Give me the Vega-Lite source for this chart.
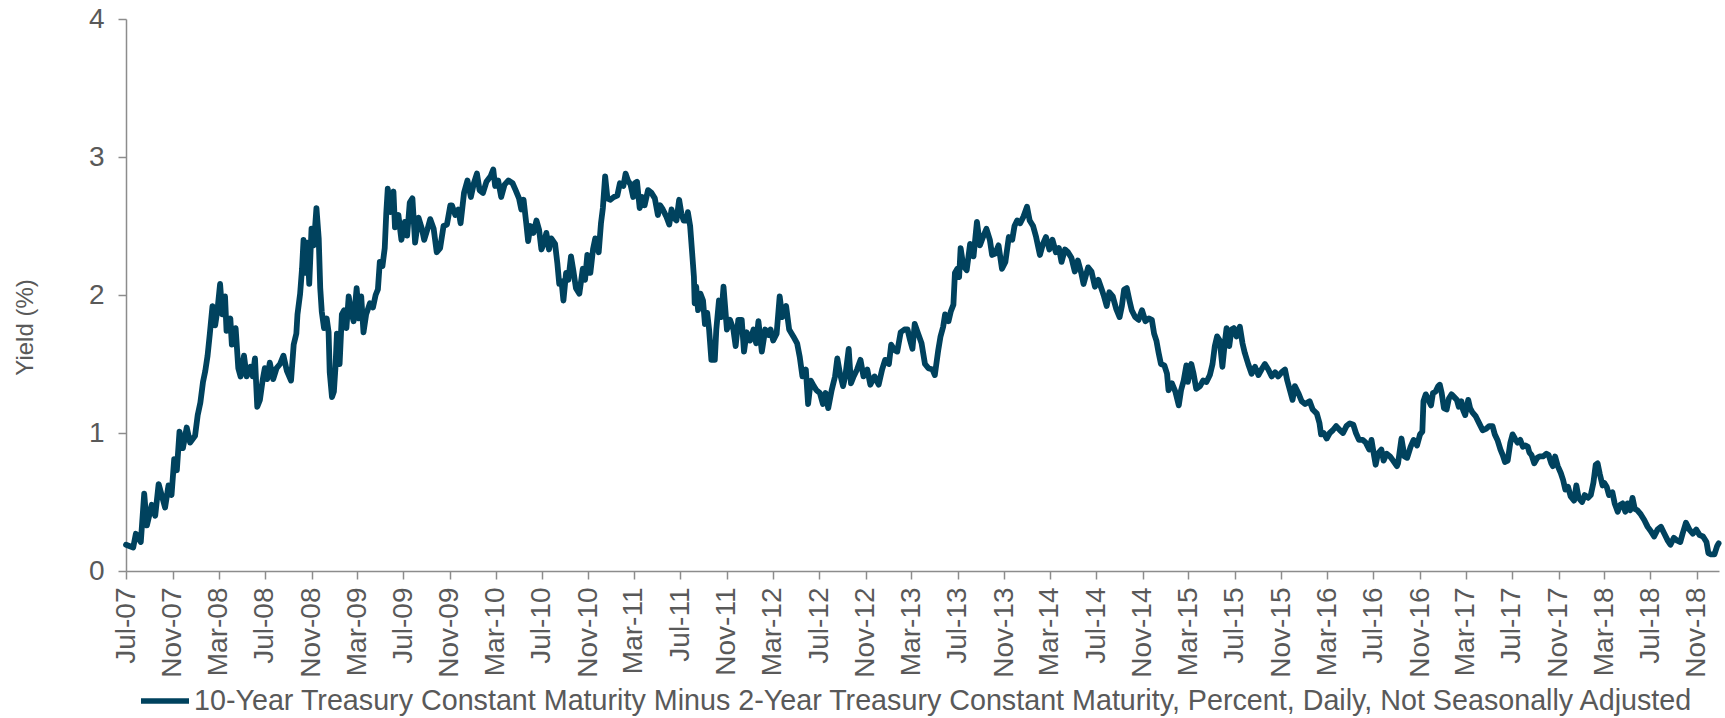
{
"$schema": "https://vega.github.io/schema/vega-lite/v6.json",
"width": 1593, "height": 552,
"autosize": {"type": "none"},
"padding": {"left": 126, "top": 19, "right": 6, "bottom": 147},
"background": "white",
"config": {"view": {"stroke": null}, "font": "Liberation Sans"},
"data": {"values": [
{"d":"2007-07-01","v":0.19},{"d":"2007-07-20","v":0.17},{"d":"2007-07-27","v":0.27},{"d":"2007-08-09","v":0.21},{"d":"2007-08-18","v":0.56},{"d":"2007-08-25","v":0.33},{"d":"2007-09-07","v":0.48},{"d":"2007-09-16","v":0.40},{"d":"2007-09-25","v":0.63},{"d":"2007-10-12","v":0.46},{"d":"2007-10-21","v":0.62},{"d":"2007-10-29","v":0.55},{"d":"2007-11-05","v":0.81},{"d":"2007-11-12","v":0.73},{"d":"2007-11-19","v":1.01},{"d":"2007-11-28","v":0.89},{"d":"2007-12-08","v":1.04},{"d":"2007-12-17","v":0.93},{"d":"2007-12-30","v":0.98},
{"d":"2008-01-06","v":1.13},{"d":"2008-01-13","v":1.22},{"d":"2008-01-20","v":1.37},{"d":"2008-01-26","v":1.45},{"d":"2008-02-01","v":1.56},{"d":"2008-02-07","v":1.72},{"d":"2008-02-14","v":1.92},{"d":"2008-02-21","v":1.78},{"d":"2008-02-27","v":1.89},{"d":"2008-03-05","v":2.08},{"d":"2008-03-11","v":1.86},{"d":"2008-03-18","v":1.99},{"d":"2008-03-22","v":1.74},{"d":"2008-04-01","v":1.83},{"d":"2008-04-05","v":1.64},{"d":"2008-04-15","v":1.76},{"d":"2008-04-22","v":1.47},{"d":"2008-04-28","v":1.41},{"d":"2008-05-07","v":1.56},{"d":"2008-05-14","v":1.41},{"d":"2008-05-24","v":1.48},{"d":"2008-05-30","v":1.41},{"d":"2008-06-05","v":1.54},{"d":"2008-06-11","v":1.19},{"d":"2008-06-18","v":1.24},{"d":"2008-06-25","v":1.38},{"d":"2008-07-01","v":1.47},{"d":"2008-07-07","v":1.39},{"d":"2008-07-14","v":1.51},{"d":"2008-07-23","v":1.39},{"d":"2008-08-01","v":1.47},{"d":"2008-08-10","v":1.50},{"d":"2008-08-19","v":1.56},{"d":"2008-08-28","v":1.45},{"d":"2008-09-08","v":1.38},{"d":"2008-09-15","v":1.64},{"d":"2008-09-22","v":1.72},{"d":"2008-09-25","v":1.86},{"d":"2008-10-02","v":2.01},{"d":"2008-10-07","v":2.19},{"d":"2008-10-11","v":2.40},{"d":"2008-10-16","v":2.16},{"d":"2008-10-21","v":2.38},{"d":"2008-10-26","v":2.08},{"d":"2008-11-01","v":2.48},{"d":"2008-11-07","v":2.36},{"d":"2008-11-14","v":2.63},{"d":"2008-11-20","v":2.41},{"d":"2008-11-24","v":2.05},{"d":"2008-11-28","v":1.88},{"d":"2008-12-04","v":1.76},{"d":"2008-12-11","v":1.83},{"d":"2008-12-16","v":1.73},{"d":"2008-12-19","v":1.44},{"d":"2008-12-25","v":1.26},{"d":"2008-12-30","v":1.30},
{"d":"2009-01-03","v":1.47},{"d":"2009-01-07","v":1.72},{"d":"2009-01-14","v":1.50},{"d":"2009-01-20","v":1.86},{"d":"2009-01-26","v":1.89},{"d":"2009-02-01","v":1.76},{"d":"2009-02-07","v":1.99},{"d":"2009-02-13","v":1.88},{"d":"2009-02-20","v":1.81},{"d":"2009-02-28","v":2.05},{"d":"2009-03-06","v":1.83},{"d":"2009-03-12","v":1.99},{"d":"2009-03-18","v":1.73},{"d":"2009-03-25","v":1.86},{"d":"2009-04-04","v":1.94},{"d":"2009-04-12","v":1.91},{"d":"2009-04-19","v":2.00},{"d":"2009-04-25","v":2.04},{"d":"2009-04-30","v":2.24},{"d":"2009-05-07","v":2.21},{"d":"2009-05-13","v":2.34},{"d":"2009-05-17","v":2.59},{"d":"2009-05-21","v":2.77},{"d":"2009-05-28","v":2.60},{"d":"2009-06-05","v":2.75},{"d":"2009-06-09","v":2.49},{"d":"2009-06-18","v":2.58},{"d":"2009-06-26","v":2.40},{"d":"2009-07-05","v":2.53},{"d":"2009-07-11","v":2.43},{"d":"2009-07-18","v":2.67},{"d":"2009-07-25","v":2.70},{"d":"2009-08-01","v":2.38},{"d":"2009-08-10","v":2.56},{"d":"2009-08-19","v":2.48},{"d":"2009-08-25","v":2.40},{"d":"2009-09-03","v":2.48},{"d":"2009-09-10","v":2.55},{"d":"2009-09-19","v":2.48},{"d":"2009-09-27","v":2.31},{"d":"2009-10-06","v":2.34},{"d":"2009-10-15","v":2.50},{"d":"2009-10-24","v":2.51},{"d":"2009-11-02","v":2.65},{"d":"2009-11-06","v":2.65},{"d":"2009-11-15","v":2.58},{"d":"2009-11-23","v":2.62},{"d":"2009-11-29","v":2.52},{"d":"2009-12-08","v":2.74},{"d":"2009-12-17","v":2.83},{"d":"2009-12-26","v":2.71},
{"d":"2010-01-03","v":2.81},{"d":"2010-01-11","v":2.88},{"d":"2010-01-18","v":2.76},{"d":"2010-01-27","v":2.74},{"d":"2010-02-05","v":2.82},{"d":"2010-02-16","v":2.86},{"d":"2010-02-23","v":2.91},{"d":"2010-02-28","v":2.79},{"d":"2010-03-08","v":2.83},{"d":"2010-03-16","v":2.71},{"d":"2010-03-25","v":2.80},{"d":"2010-04-04","v":2.83},{"d":"2010-04-15","v":2.81},{"d":"2010-04-23","v":2.76},{"d":"2010-05-02","v":2.70},{"d":"2010-05-08","v":2.62},{"d":"2010-05-14","v":2.69},{"d":"2010-05-21","v":2.52},{"d":"2010-05-26","v":2.39},{"d":"2010-06-01","v":2.50},{"d":"2010-06-09","v":2.45},{"d":"2010-06-17","v":2.54},{"d":"2010-06-24","v":2.47},{"d":"2010-06-30","v":2.33},{"d":"2010-07-06","v":2.37},{"d":"2010-07-13","v":2.45},{"d":"2010-07-20","v":2.33},{"d":"2010-07-26","v":2.41},{"d":"2010-08-05","v":2.37},{"d":"2010-08-11","v":2.23},{"d":"2010-08-16","v":2.08},{"d":"2010-08-22","v":2.10},{"d":"2010-08-27","v":1.96},{"d":"2010-09-03","v":2.16},{"d":"2010-09-09","v":2.11},{"d":"2010-09-16","v":2.28},{"d":"2010-09-22","v":2.18},{"d":"2010-09-29","v":2.05},{"d":"2010-10-08","v":2.01},{"d":"2010-10-17","v":2.19},{"d":"2010-10-23","v":2.11},{"d":"2010-10-29","v":2.29},{"d":"2010-11-06","v":2.16},{"d":"2010-11-13","v":2.33},{"d":"2010-11-19","v":2.41},{"d":"2010-11-28","v":2.31},{"d":"2010-12-04","v":2.52},{"d":"2010-12-09","v":2.63},{"d":"2010-12-15","v":2.86},{"d":"2010-12-21","v":2.70},{"d":"2010-12-28","v":2.69},
{"d":"2011-01-07","v":2.71},{"d":"2011-01-16","v":2.72},{"d":"2011-01-23","v":2.81},{"d":"2011-02-01","v":2.79},{"d":"2011-02-07","v":2.88},{"d":"2011-02-13","v":2.83},{"d":"2011-02-20","v":2.80},{"d":"2011-02-27","v":2.71},{"d":"2011-03-03","v":2.81},{"d":"2011-03-09","v":2.82},{"d":"2011-03-16","v":2.63},{"d":"2011-03-23","v":2.71},{"d":"2011-03-29","v":2.65},{"d":"2011-04-07","v":2.76},{"d":"2011-04-16","v":2.74},{"d":"2011-04-25","v":2.70},{"d":"2011-05-03","v":2.58},{"d":"2011-05-09","v":2.65},{"d":"2011-05-16","v":2.62},{"d":"2011-05-25","v":2.57},{"d":"2011-06-02","v":2.51},{"d":"2011-06-08","v":2.62},{"d":"2011-06-14","v":2.56},{"d":"2011-06-21","v":2.54},{"d":"2011-06-28","v":2.69},{"d":"2011-07-04","v":2.59},{"d":"2011-07-10","v":2.54},{"d":"2011-07-17","v":2.54},{"d":"2011-07-21","v":2.60},{"d":"2011-07-27","v":2.50},{"d":"2011-08-02","v":2.28},{"d":"2011-08-06","v":2.13},{"d":"2011-08-08","v":1.94},{"d":"2011-08-12","v":2.06},{"d":"2011-08-17","v":1.89},{"d":"2011-08-23","v":2.01},{"d":"2011-08-30","v":1.96},{"d":"2011-09-04","v":1.79},{"d":"2011-09-10","v":1.87},{"d":"2011-09-15","v":1.75},{"d":"2011-09-21","v":1.53},{"d":"2011-09-30","v":1.53},{"d":"2011-10-04","v":1.75},{"d":"2011-10-11","v":1.96},{"d":"2011-10-17","v":1.84},{"d":"2011-10-23","v":2.06},{"d":"2011-11-01","v":1.75},{"d":"2011-11-09","v":1.82},{"d":"2011-11-18","v":1.75},{"d":"2011-11-24","v":1.63},{"d":"2011-12-01","v":1.82},{"d":"2011-12-10","v":1.82},{"d":"2011-12-16","v":1.59},{"d":"2011-12-23","v":1.73},
{"d":"2012-01-01","v":1.67},{"d":"2012-01-10","v":1.75},{"d":"2012-01-17","v":1.65},{"d":"2012-01-23","v":1.81},{"d":"2012-02-01","v":1.59},{"d":"2012-02-10","v":1.75},{"d":"2012-02-19","v":1.71},{"d":"2012-02-24","v":1.75},{"d":"2012-03-02","v":1.67},{"d":"2012-03-11","v":1.72},{"d":"2012-03-19","v":1.99},{"d":"2012-03-26","v":1.84},{"d":"2012-04-05","v":1.92},{"d":"2012-04-13","v":1.75},{"d":"2012-04-24","v":1.70},{"d":"2012-05-04","v":1.65},{"d":"2012-05-11","v":1.55},{"d":"2012-05-18","v":1.41},{"d":"2012-05-27","v":1.46},{"d":"2012-06-02","v":1.21},{"d":"2012-06-09","v":1.38},{"d":"2012-06-17","v":1.34},{"d":"2012-06-24","v":1.31},{"d":"2012-07-03","v":1.29},{"d":"2012-07-11","v":1.21},{"d":"2012-07-18","v":1.29},{"d":"2012-07-25","v":1.18},{"d":"2012-08-03","v":1.31},{"d":"2012-08-12","v":1.41},{"d":"2012-08-18","v":1.54},{"d":"2012-08-25","v":1.43},{"d":"2012-09-02","v":1.34},{"d":"2012-09-08","v":1.41},{"d":"2012-09-17","v":1.61},{"d":"2012-09-23","v":1.36},{"d":"2012-09-30","v":1.41},{"d":"2012-10-09","v":1.46},{"d":"2012-10-18","v":1.53},{"d":"2012-10-26","v":1.41},{"d":"2012-11-05","v":1.46},{"d":"2012-11-13","v":1.35},{"d":"2012-11-24","v":1.41},{"d":"2012-12-05","v":1.35},{"d":"2012-12-14","v":1.46},{"d":"2012-12-22","v":1.53},
{"d":"2013-01-01","v":1.50},{"d":"2013-01-07","v":1.64},{"d":"2013-01-16","v":1.60},{"d":"2013-01-23","v":1.59},{"d":"2013-02-01","v":1.73},{"d":"2013-02-11","v":1.75},{"d":"2013-02-19","v":1.75},{"d":"2013-02-26","v":1.67},{"d":"2013-03-04","v":1.61},{"d":"2013-03-10","v":1.79},{"d":"2013-03-19","v":1.72},{"d":"2013-03-28","v":1.65},{"d":"2013-04-06","v":1.50},{"d":"2013-04-15","v":1.47},{"d":"2013-04-26","v":1.46},{"d":"2013-05-02","v":1.42},{"d":"2013-05-11","v":1.60},{"d":"2013-05-17","v":1.70},{"d":"2013-05-24","v":1.77},{"d":"2013-05-29","v":1.86},{"d":"2013-06-07","v":1.81},{"d":"2013-06-13","v":1.88},{"d":"2013-06-20","v":1.93},{"d":"2013-06-24","v":2.16},{"d":"2013-06-30","v":2.19},{"d":"2013-07-05","v":2.13},{"d":"2013-07-09","v":2.34},{"d":"2013-07-16","v":2.21},{"d":"2013-07-25","v":2.18},{"d":"2013-08-03","v":2.37},{"d":"2013-08-12","v":2.28},{"d":"2013-08-21","v":2.53},{"d":"2013-08-29","v":2.36},{"d":"2013-09-06","v":2.42},{"d":"2013-09-15","v":2.48},{"d":"2013-09-24","v":2.40},{"d":"2013-09-30","v":2.29},{"d":"2013-10-08","v":2.30},{"d":"2013-10-17","v":2.36},{"d":"2013-10-26","v":2.19},{"d":"2013-11-04","v":2.24},{"d":"2013-11-13","v":2.42},{"d":"2013-11-22","v":2.40},{"d":"2013-11-28","v":2.50},{"d":"2013-12-05","v":2.54},{"d":"2013-12-13","v":2.52},{"d":"2013-12-22","v":2.57},{"d":"2013-12-31","v":2.64},
{"d":"2014-01-07","v":2.54},{"d":"2014-01-16","v":2.50},{"d":"2014-01-24","v":2.42},{"d":"2014-02-03","v":2.29},{"d":"2014-02-11","v":2.37},{"d":"2014-02-19","v":2.42},{"d":"2014-02-28","v":2.33},{"d":"2014-03-08","v":2.40},{"d":"2014-03-17","v":2.31},{"d":"2014-03-25","v":2.34},{"d":"2014-04-01","v":2.24},{"d":"2014-04-10","v":2.33},{"d":"2014-04-18","v":2.31},{"d":"2014-04-27","v":2.27},{"d":"2014-05-06","v":2.17},{"d":"2014-05-14","v":2.25},{"d":"2014-05-23","v":2.16},{"d":"2014-05-29","v":2.08},{"d":"2014-06-10","v":2.20},{"d":"2014-06-19","v":2.17},{"d":"2014-06-28","v":2.06},{"d":"2014-07-07","v":2.11},{"d":"2014-07-16","v":2.04},{"d":"2014-07-22","v":1.99},{"d":"2014-07-29","v":1.92},{"d":"2014-08-05","v":2.02},{"d":"2014-08-14","v":1.99},{"d":"2014-08-23","v":1.90},{"d":"2014-09-01","v":1.84},{"d":"2014-09-07","v":1.92},{"d":"2014-09-13","v":2.04},{"d":"2014-09-20","v":2.05},{"d":"2014-09-27","v":1.96},{"d":"2014-10-03","v":1.89},{"d":"2014-10-12","v":1.84},{"d":"2014-10-21","v":1.82},{"d":"2014-10-30","v":1.89},{"d":"2014-11-08","v":1.81},{"d":"2014-11-17","v":1.83},{"d":"2014-11-25","v":1.82},{"d":"2014-12-01","v":1.72},{"d":"2014-12-07","v":1.67},{"d":"2014-12-13","v":1.58},{"d":"2014-12-19","v":1.50},{"d":"2014-12-28","v":1.49},
{"d":"2015-01-04","v":1.43},{"d":"2015-01-08","v":1.31},{"d":"2015-01-17","v":1.36},{"d":"2015-01-26","v":1.30},{"d":"2015-02-04","v":1.20},{"d":"2015-02-10","v":1.31},{"d":"2015-02-17","v":1.38},{"d":"2015-02-24","v":1.49},{"d":"2015-02-28","v":1.37},{"d":"2015-03-09","v":1.50},{"d":"2015-03-15","v":1.43},{"d":"2015-03-22","v":1.32},{"d":"2015-04-01","v":1.34},{"d":"2015-04-09","v":1.38},{"d":"2015-04-18","v":1.37},{"d":"2015-04-27","v":1.42},{"d":"2015-05-04","v":1.50},{"d":"2015-05-10","v":1.63},{"d":"2015-05-16","v":1.70},{"d":"2015-05-23","v":1.67},{"d":"2015-05-30","v":1.48},{"d":"2015-06-06","v":1.67},{"d":"2015-06-10","v":1.76},{"d":"2015-06-17","v":1.63},{"d":"2015-06-23","v":1.75},{"d":"2015-06-29","v":1.76},{"d":"2015-07-06","v":1.70},{"d":"2015-07-15","v":1.77},{"d":"2015-07-22","v":1.65},{"d":"2015-07-28","v":1.58},{"d":"2015-08-06","v":1.50},{"d":"2015-08-15","v":1.43},{"d":"2015-08-24","v":1.48},{"d":"2015-09-02","v":1.42},{"d":"2015-09-10","v":1.46},{"d":"2015-09-19","v":1.50},{"d":"2015-09-28","v":1.46},{"d":"2015-10-07","v":1.41},{"d":"2015-10-16","v":1.44},{"d":"2015-10-24","v":1.41},{"d":"2015-11-02","v":1.44},{"d":"2015-11-11","v":1.46},{"d":"2015-11-17","v":1.38},{"d":"2015-11-24","v":1.31},{"d":"2015-12-01","v":1.24},{"d":"2015-12-07","v":1.34},{"d":"2015-12-16","v":1.29},{"d":"2015-12-25","v":1.23},
{"d":"2016-01-03","v":1.21},{"d":"2016-01-15","v":1.23},{"d":"2016-01-23","v":1.17},{"d":"2016-02-03","v":1.14},{"d":"2016-02-10","v":1.07},{"d":"2016-02-14","v":0.99},{"d":"2016-02-21","v":1.00},{"d":"2016-02-29","v":0.96},{"d":"2016-03-08","v":1.00},{"d":"2016-03-16","v":1.02},{"d":"2016-03-25","v":1.05},{"d":"2016-04-04","v":1.02},{"d":"2016-04-12","v":1.00},{"d":"2016-04-21","v":1.05},{"d":"2016-04-30","v":1.07},{"d":"2016-05-09","v":1.06},{"d":"2016-05-16","v":1.00},{"d":"2016-05-24","v":0.95},{"d":"2016-06-03","v":0.95},{"d":"2016-06-11","v":0.93},{"d":"2016-06-20","v":0.88},{"d":"2016-06-26","v":0.95},{"d":"2016-07-02","v":0.85},{"d":"2016-07-07","v":0.77},{"d":"2016-07-13","v":0.85},{"d":"2016-07-22","v":0.88},{"d":"2016-07-28","v":0.80},{"d":"2016-08-05","v":0.85},{"d":"2016-08-14","v":0.83},{"d":"2016-08-22","v":0.80},{"d":"2016-09-01","v":0.76},{"d":"2016-09-04","v":0.78},{"d":"2016-09-13","v":0.96},{"d":"2016-09-21","v":0.83},{"d":"2016-09-28","v":0.82},{"d":"2016-10-07","v":0.90},{"d":"2016-10-15","v":0.95},{"d":"2016-10-24","v":0.91},{"d":"2016-11-01","v":0.99},{"d":"2016-11-07","v":1.01},{"d":"2016-11-10","v":1.23},{"d":"2016-11-16","v":1.28},{"d":"2016-11-23","v":1.24},{"d":"2016-11-30","v":1.20},{"d":"2016-12-05","v":1.29},{"d":"2016-12-12","v":1.30},{"d":"2016-12-19","v":1.34},{"d":"2016-12-23","v":1.35},{"d":"2016-12-28","v":1.29},
{"d":"2017-01-03","v":1.18},{"d":"2017-01-10","v":1.17},{"d":"2017-01-16","v":1.25},{"d":"2017-01-23","v":1.28},{"d":"2017-01-30","v":1.26},{"d":"2017-02-06","v":1.24},{"d":"2017-02-11","v":1.19},{"d":"2017-02-18","v":1.23},{"d":"2017-02-22","v":1.17},{"d":"2017-02-28","v":1.13},{"d":"2017-03-08","v":1.24},{"d":"2017-03-13","v":1.18},{"d":"2017-03-19","v":1.15},{"d":"2017-03-28","v":1.12},{"d":"2017-04-06","v":1.07},{"d":"2017-04-15","v":1.02},{"d":"2017-04-24","v":1.03},{"d":"2017-05-02","v":1.05},{"d":"2017-05-11","v":1.05},{"d":"2017-05-17","v":0.99},{"d":"2017-05-24","v":0.95},{"d":"2017-06-01","v":0.88},{"d":"2017-06-07","v":0.84},{"d":"2017-06-13","v":0.79},{"d":"2017-06-20","v":0.80},{"d":"2017-06-27","v":0.93},{"d":"2017-07-03","v":0.99},{"d":"2017-07-09","v":0.96},{"d":"2017-07-16","v":0.93},{"d":"2017-07-23","v":0.95},{"d":"2017-07-30","v":0.90},{"d":"2017-08-06","v":0.91},{"d":"2017-08-12","v":0.90},{"d":"2017-08-16","v":0.86},{"d":"2017-08-22","v":0.84},{"d":"2017-08-29","v":0.78},{"d":"2017-09-06","v":0.82},{"d":"2017-09-12","v":0.83},{"d":"2017-09-21","v":0.83},{"d":"2017-09-30","v":0.85},{"d":"2017-10-06","v":0.84},{"d":"2017-10-13","v":0.78},{"d":"2017-10-17","v":0.76},{"d":"2017-10-23","v":0.83},{"d":"2017-10-30","v":0.76},{"d":"2017-11-07","v":0.71},{"d":"2017-11-13","v":0.66},{"d":"2017-11-19","v":0.59},{"d":"2017-11-26","v":0.61},{"d":"2017-12-03","v":0.54},{"d":"2017-12-12","v":0.51},{"d":"2017-12-18","v":0.62},{"d":"2017-12-24","v":0.53},
{"d":"2018-01-02","v":0.50},{"d":"2018-01-09","v":0.55},{"d":"2018-01-18","v":0.53},{"d":"2018-01-25","v":0.55},{"d":"2018-02-01","v":0.64},{"d":"2018-02-07","v":0.77},{"d":"2018-02-12","v":0.78},{"d":"2018-02-18","v":0.70},{"d":"2018-02-25","v":0.62},{"d":"2018-03-01","v":0.64},{"d":"2018-03-08","v":0.61},{"d":"2018-03-14","v":0.55},{"d":"2018-03-23","v":0.57},{"d":"2018-03-29","v":0.49},{"d":"2018-04-06","v":0.43},{"d":"2018-04-13","v":0.48},{"d":"2018-04-19","v":0.49},{"d":"2018-04-26","v":0.43},{"d":"2018-05-02","v":0.49},{"d":"2018-05-09","v":0.44},{"d":"2018-05-15","v":0.53},{"d":"2018-05-21","v":0.45},{"d":"2018-05-28","v":0.44},{"d":"2018-06-06","v":0.41},{"d":"2018-06-15","v":0.37},{"d":"2018-06-24","v":0.32},{"d":"2018-07-02","v":0.29},{"d":"2018-07-11","v":0.25},{"d":"2018-07-20","v":0.30},{"d":"2018-07-29","v":0.32},{"d":"2018-08-07","v":0.27},{"d":"2018-08-16","v":0.22},{"d":"2018-08-23","v":0.19},{"d":"2018-09-01","v":0.24},{"d":"2018-09-10","v":0.22},{"d":"2018-09-18","v":0.21},{"d":"2018-09-24","v":0.27},{"d":"2018-10-03","v":0.35},{"d":"2018-10-12","v":0.30},{"d":"2018-10-21","v":0.27},{"d":"2018-10-30","v":0.30},{"d":"2018-11-08","v":0.26},{"d":"2018-11-17","v":0.25},{"d":"2018-11-26","v":0.21},{"d":"2018-12-01","v":0.13},{"d":"2018-12-08","v":0.12},{"d":"2018-12-17","v":0.12},{"d":"2018-12-24","v":0.18},{"d":"2018-12-28","v":0.20}
]},
"mark": {"type": "line", "strokeWidth": 5.8, "strokeJoin": "round", "strokeCap": "round"},
"encoding": {
"x": {"field": "d", "type": "temporal",
 "scale": {"type": "utc", "domain": [{"year": 2007, "month": 7, "date": 1, "utc": true}, {"year": 2018, "month": 12, "date": 29, "utc": true}]},
 "axis": {"title": null, "labelExpr": "utcFormat(datum.value, '%b-%y')",
  "values": [{"year":2007,"month":7,"date":1,"utc":true},{"year":2007,"month":11,"date":1,"utc":true},{"year":2008,"month":3,"date":1,"utc":true},{"year":2008,"month":7,"date":1,"utc":true},{"year":2008,"month":11,"date":1,"utc":true},{"year":2009,"month":3,"date":1,"utc":true},{"year":2009,"month":7,"date":1,"utc":true},{"year":2009,"month":11,"date":1,"utc":true},{"year":2010,"month":3,"date":1,"utc":true},{"year":2010,"month":7,"date":1,"utc":true},{"year":2010,"month":11,"date":1,"utc":true},{"year":2011,"month":3,"date":1,"utc":true},{"year":2011,"month":7,"date":1,"utc":true},{"year":2011,"month":11,"date":1,"utc":true},{"year":2012,"month":3,"date":1,"utc":true},{"year":2012,"month":7,"date":1,"utc":true},{"year":2012,"month":11,"date":1,"utc":true},{"year":2013,"month":3,"date":1,"utc":true},{"year":2013,"month":7,"date":1,"utc":true},{"year":2013,"month":11,"date":1,"utc":true},{"year":2014,"month":3,"date":1,"utc":true},{"year":2014,"month":7,"date":1,"utc":true},{"year":2014,"month":11,"date":1,"utc":true},{"year":2015,"month":3,"date":1,"utc":true},{"year":2015,"month":7,"date":1,"utc":true},{"year":2015,"month":11,"date":1,"utc":true},{"year":2016,"month":3,"date":1,"utc":true},{"year":2016,"month":7,"date":1,"utc":true},{"year":2016,"month":11,"date":1,"utc":true},{"year":2017,"month":3,"date":1,"utc":true},{"year":2017,"month":7,"date":1,"utc":true},{"year":2017,"month":11,"date":1,"utc":true},{"year":2018,"month":3,"date":1,"utc":true},{"year":2018,"month":7,"date":1,"utc":true},{"year":2018,"month":11,"date":1,"utc":true}],
  "labelAngle": 270, "labelFontSize": 28, "labelColor": "#595959", "labelFont": "Liberation Sans",
  "domainColor": "#8c8c8c", "tickColor": "#8c8c8c", "domainWidth": 1.5, "tickWidth": 1.5, "tickSize": 8, "labelPadding": 8,
  "grid": false, "labelOverlap": false, "labelFlush": false}},
"y": {"field": "v", "type": "quantitative",
 "scale": {"domain": [0, 4], "nice": false},
 "axis": {"title": "Yield (%)", "values": [0, 1, 2, 3, 4], "grid": false,
  "labelFontSize": 28, "labelColor": "#595959", "labelFont": "Liberation Sans", "labelPadding": 14,
  "domainColor": "#8c8c8c", "tickColor": "#8c8c8c", "domainWidth": 1.5, "tickWidth": 1.5, "tickSize": 8,
  "titleFontSize": 24, "titleFontWeight": "normal", "titleColor": "#595959", "titleFont": "Liberation Sans",
  "titleAngle": 270, "titleX": -101, "titleY": 308, "titleAlign": "center", "titleBaseline": "middle"}},
"color": {"datum": "10-Year Treasury Constant Maturity Minus 2-Year Treasury Constant Maturity, Percent, Daily, Not Seasonally Adjusted", "type": "nominal",
 "scale": {"range": ["#00425E"]},
 "legend": {"title": null, "orient": "none", "legendX": 12, "legendY": 655, "symbolType": "stroke", "symbolSize": 2304, "symbolStrokeWidth": 5.5,
  "labelFontSize": 28.7, "labelColor": "#595959", "labelFont": "Liberation Sans", "labelLimit": 2000, "labelOffset": 2}}
}
}
